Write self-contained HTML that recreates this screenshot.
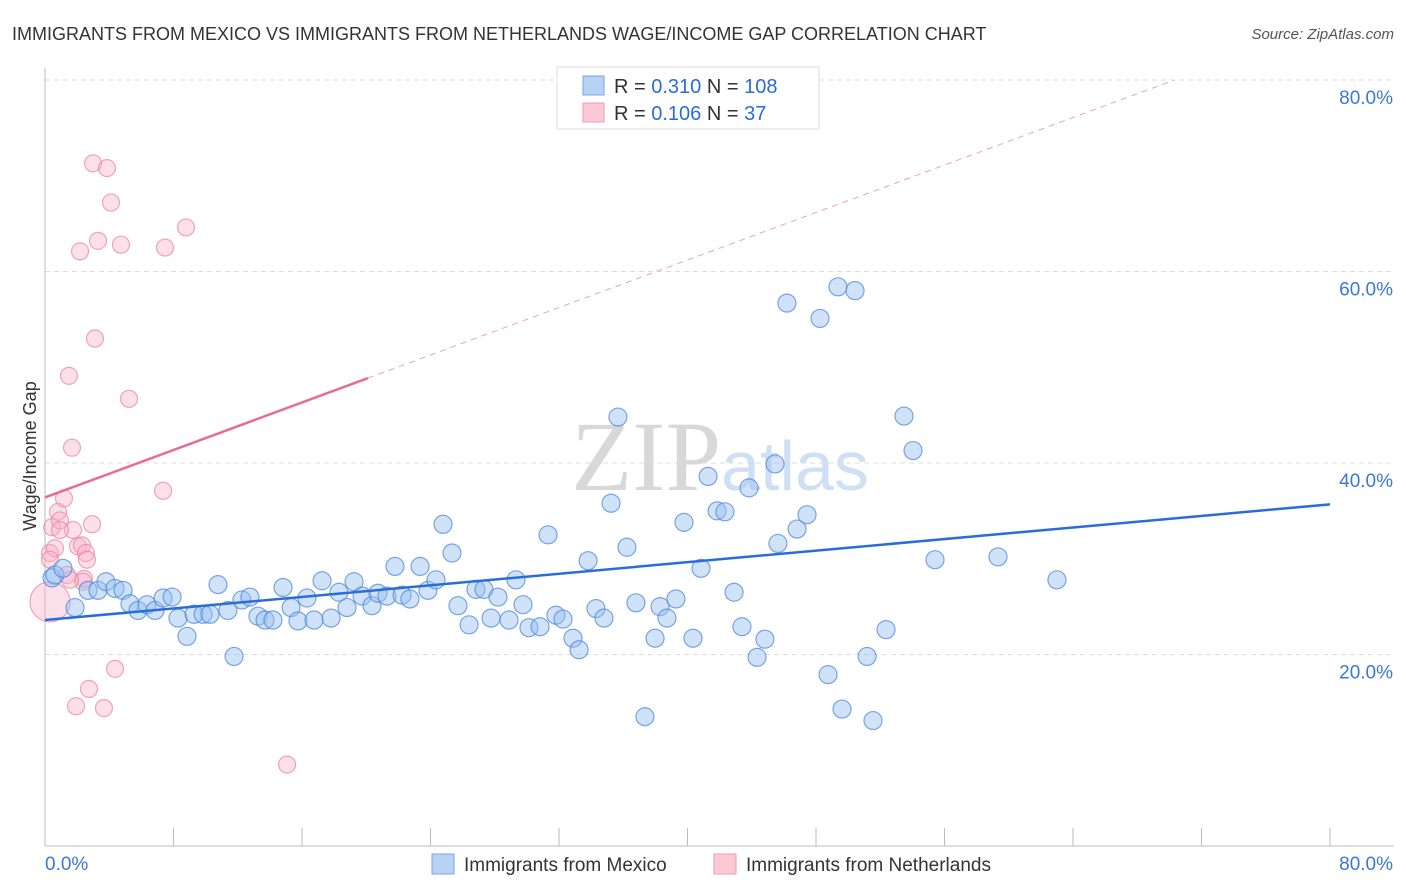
<!DOCTYPE html>
<html><head><meta charset="utf-8"><style>
body{margin:0;background:#fff;font-family:"Liberation Sans",sans-serif;}
#wrap{position:relative;width:1406px;height:892px;overflow:hidden;}
</style></head><body><div id="wrap">
<svg id="svg" width="1406" height="892" xmlns="http://www.w3.org/2000/svg">
<text x="12" y="40" font-size="18" fill="#333">IMMIGRANTS FROM MEXICO VS IMMIGRANTS FROM NETHERLANDS WAGE/INCOME GAP CORRELATION CHART</text>
<text x="1394" y="39" font-size="15" fill="#555" font-style="italic" text-anchor="end">Source: ZipAtlas.com</text>
<text x="36" y="456" font-size="18" fill="#333" text-anchor="middle" transform="rotate(-90 36 456)">Wage/Income Gap</text>
<text x="720" y="490" font-size="100" fill="#ddd" text-anchor="middle" font-family="Liberation Serif"><tspan fill="#d8d8d8">ZIP</tspan><tspan fill="#cfe0f4" font-family="Liberation Sans" font-size="70">atlas</tspan></text>
<g id="grid"></g><g id="axes"></g><g id="pts"></g><g id="lines"></g>
<g>
<rect x="557" y="67" width="262" height="62" fill="#fff" stroke="#ddd"/>
<rect x="583" y="76" width="21" height="19" fill="#b8d2f4" stroke="#7aa6e4"/>
<rect x="583" y="103" width="21" height="19" fill="#fbc8d6" stroke="#ee9cb5"/>
<text x="614" y="93" font-size="20" fill="#333">R = <tspan fill="#2a6dd9">0.310</tspan>   N = <tspan fill="#2a6dd9">108</tspan></text>
<text x="614" y="120" font-size="20" fill="#333">R = <tspan fill="#2a6dd9">0.106</tspan>   N = <tspan fill="#2a6dd9">  37</tspan></text>
</g>
<g>
<rect x="432" y="854" width="22" height="20" fill="#b8d2f4" stroke="#7aa6e4"/>
<text x="464" y="871" font-size="19" fill="#333">Immigrants from Mexico</text>
<rect x="714" y="854" width="22" height="20" fill="#fbc8d6" stroke="#ee9cb5"/>
<text x="746" y="871" font-size="19" fill="#333">Immigrants from Netherlands</text>
</g>
</svg></div>
<script>
const yTicks=[20,40,60,80];
const yTickLabels=["20.0%","40.0%","60.0%","80.0%"];
const xTicks=[0,8,16,24,32,40,48,56,64,72,80];
const mexX=[0.44,0.62,1.12,1.87,2.68,3.30,3.80,4.36,4.86,5.29,5.79,6.35,6.85,7.35,7.91,8.28,8.84,9.28,9.84,10.27,10.77,11.39,11.77,12.26,12.76,13.26,13.70,14.19,14.82,15.32,15.75,16.31,16.75,17.25,17.81,18.30,18.80,19.24,19.74,20.36,20.73,21.29,21.79,22.23,22.72,23.35,23.84,24.34,24.78,25.34,25.71,26.40,26.83,27.33,27.77,28.20,28.89,29.32,29.76,30.13,30.82,31.32,31.81,32.25,32.87,33.25,33.81,34.30,34.80,35.24,35.67,36.23,36.79,37.35,37.98,38.29,38.72,39.28,39.78,40.34,40.84,41.28,41.84,42.33,42.90,43.39,43.83,44.33,44.82,45.45,45.63,46.19,46.82,47.44,48.25,48.75,49.37,49.62,50.43,51.18,51.55,52.36,53.48,54.04,55.41,59.33,63.00];
const mexY=[28.0,28.3,29.0,24.9,26.7,26.7,27.6,26.9,26.7,25.3,24.6,25.2,24.6,25.9,26.0,23.8,21.9,24.2,24.2,24.2,27.3,24.6,19.8,25.7,26.0,24.0,23.6,23.6,27.0,24.9,23.5,25.9,23.6,27.7,23.8,26.5,24.9,27.6,26.1,25.1,26.4,26.1,29.2,26.2,25.8,29.2,26.7,27.8,33.6,30.6,25.1,23.1,26.8,26.8,23.8,26.0,23.6,27.8,25.2,22.8,22.9,32.5,24.1,23.7,21.7,20.5,29.8,24.8,23.8,35.8,44.8,31.2,25.4,13.5,21.7,25.0,23.8,25.8,33.8,21.7,29.0,38.6,35.0,34.9,26.5,22.9,37.4,19.7,21.6,39.9,31.6,56.7,33.1,34.6,55.1,17.9,58.4,14.3,58.0,19.8,13.1,22.6,44.9,41.3,29.9,30.2,27.8];
const nedX=[0.31,0.31,0.44,0.62,0.81,0.93,1.18,1.37,1.49,1.68,1.74,2.05,2.18,2.30,2.43,2.55,2.61,2.74,2.93,2.99,3.30,3.67,3.86,4.11,4.36,4.73,3.11,5.23,7.35,7.47,8.78,15.07,1.93,0.93,2.37,1.56,0.31];
const nedY=[25.5,30.6,33.3,31.1,34.9,34.0,36.3,28.3,49.1,41.6,33.0,31.3,62.1,31.4,27.9,30.6,29.9,16.4,33.6,71.3,63.2,14.4,70.8,67.2,18.5,62.8,53.0,46.7,37.1,62.5,64.6,8.5,14.6,33.0,27.6,27.8,29.9];
const mexFit=[23.6,0.151];
const nedFit=[36.4,0.62];
const NS="http://www.w3.org/2000/svg";
const sx=v=>45+v*(1285/80);
const sy=v=>846-v*(766/80);
function mk(tag,parent,attrs){const e=document.createElementNS(NS,tag);for(const k in attrs)e.setAttribute(k,attrs[k]);document.getElementById(parent).appendChild(e);return e;}
yTicks.forEach((t,i)=>{
  const g=mk('line','grid',{x1:45,x2:1394,y1:sy(t),y2:sy(t),stroke:'#ddd','stroke-dasharray':'5,4'});
  
  
  const l=mk('text','axes',{x:1393,y:sy(t)+24,'font-size':19,fill:'#3a78d8','text-anchor':'end'});
  l.textContent=yTickLabels[i];
  
  
});
const ax=mk('line','axes',{x1:45,x2:45,y1:68,y2:846,stroke:'#bbb'});


const bx=mk('line','axes',{x1:45,x2:1394,y1:846,y2:846,stroke:'#bbb'});


xTicks.forEach(t=>{
  const k=mk('line','axes',{x1:sx(t),x2:sx(t),y1:828,y2:846,stroke:'#bbb'});
  
  
});
const xl0=mk('text','axes',{x:45,y:870,'font-size':19,fill:'#3a78d8'});xl0.textContent=xTicks[0].toFixed(1)+'%';


const xl1=mk('text','axes',{x:1393,y:870,'font-size':19,fill:'#3a78d8','text-anchor':'end'});xl1.textContent=xTicks[xTicks.length-1].toFixed(1)+'%';


nedX.forEach((v,i)=>{
  const c=mk('circle','pts',{cx:sx(v),cy:sy(nedY[i]),r:i===0?20:8.5,fill:'rgba(248,178,200,0.4)',stroke:'rgba(232,130,160,0.7)','stroke-width':1.2});
  
  
});
mexX.forEach((v,i)=>{
  const c=mk('circle','pts',{cx:sx(v),cy:sy(mexY[i]),r:9,fill:'rgba(150,190,240,0.45)',stroke:'rgba(70,130,220,0.7)','stroke-width':1.2});
  
  
});
const bl=mk('line','lines',{x1:sx(0),y1:sy(mexFit[0]),x2:sx(80),y2:sy(mexFit[0]+mexFit[1]*80),stroke:'#2a6dd9','stroke-width':2.5});


const xEnd=(80-nedFit[0])/nedFit[1];
const pd=mk('line','lines',{x1:sx(20.1),y1:sy(nedFit[0]+nedFit[1]*20.1),x2:sx(xEnd),y2:sy(80),stroke:'#f0a0b8','stroke-width':1,'stroke-dasharray':'6,5'});


const pl=mk('line','lines',{x1:sx(0),y1:sy(nedFit[0]),x2:sx(20.1),y2:sy(nedFit[0]+nedFit[1]*20.1),stroke:'#e86b94','stroke-width':2.5});


</script></body></html>
